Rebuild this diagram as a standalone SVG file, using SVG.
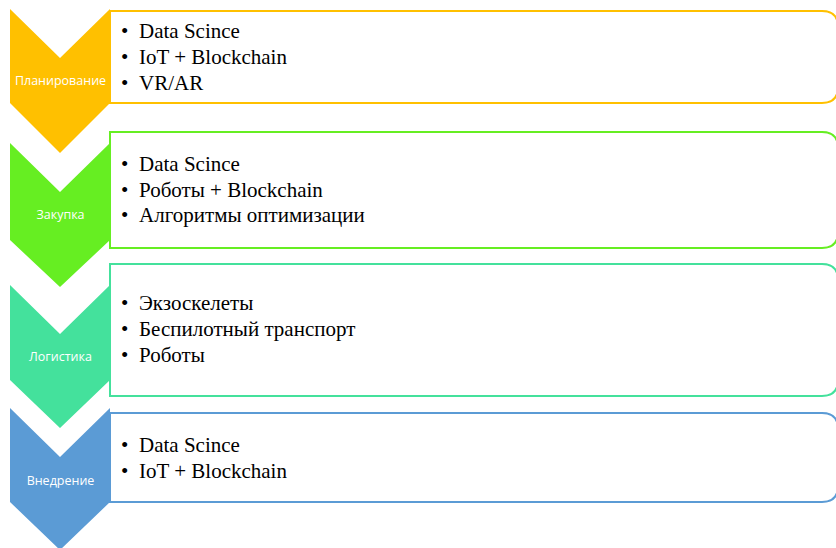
<svg xmlns="http://www.w3.org/2000/svg" width="836" height="548" viewBox="0 0 836 548">
<style>
.box{fill:#fff;stroke-width:2}
.lbl{font-family:"Open Sans","Noto Sans",sans-serif;font-size:12.5px;fill:#fff;text-anchor:middle}
.txt{font-family:"Liberation Serif","Times New Roman",serif;font-size:21px;fill:#000}
</style>
<rect width="836" height="548" fill="#fff"/>
<g id="connectors"></g>
<g id="node1">
<path class="box" stroke="#FFC000" d="M110,11 H822 Q838,11 838,27 V87 Q838,103 822,103 H110 Z"/>
<polygon fill="#FFC000" points="10,9 60,58 110,9 110,103 60,153 10,103"/>
<text class="lbl" x="60.5" y="85">Планирование</text>
<text class="txt" x="121" y="38">•<tspan x="139">Data Scince</tspan></text>
<text class="txt" x="121" y="64">•<tspan x="139">IoT + Blockchain</tspan></text>
<text class="txt" x="121" y="90">•<tspan x="139">VR/AR</tspan></text>
</g>
<g id="node2">
<path class="box" stroke="#66EE22" d="M110,132 H822 Q838,132 838,148 V232 Q838,248 822,248 H110 Z"/>
<polygon fill="#66EE22" points="10,143 60,192 110,143 110,240 60,287 10,240"/>
<text class="lbl" x="60.5" y="219">Закупка</text>
<text class="txt" x="121" y="171">•<tspan x="139">Data Scince</tspan></text>
<text class="txt" x="121" y="197">•<tspan x="139">Роботы + Blockchain</tspan></text>
<text class="txt" x="121" y="222">•<tspan x="139">Алгоритмы оптимизации</tspan></text>
</g>
<g id="node3">
<path class="box" stroke="#44E19C" d="M110,264 H822 Q838,264 838,280 V380 Q838,396 822,396 H110 Z"/>
<polygon fill="#44E19C" points="10,285 60,334 110,285 110,380 60,428 10,380"/>
<text class="lbl" x="60.5" y="361">Логистика</text>
<text class="txt" x="121" y="310">•<tspan x="139">Экзоскелеты</tspan></text>
<text class="txt" x="121" y="336">•<tspan x="139">Беспилотный транспорт</tspan></text>
<text class="txt" x="121" y="362">•<tspan x="139">Роботы</tspan></text>
</g>
<g id="node4">
<path class="box" stroke="#5B9BD5" d="M110,413 H822 Q838,413 838,429 V486 Q838,502 822,502 H110 Z"/>
<polygon fill="#5B9BD5" points="10,408 60,457 110,408 110,502 60,550 10,502"/>
<text class="lbl" x="60.5" y="485">Внедрение</text>
<text class="txt" x="121" y="452">•<tspan x="139">Data Scince</tspan></text>
<text class="txt" x="121" y="478">•<tspan x="139">IoT + Blockchain</tspan></text>
</g>
</svg>
